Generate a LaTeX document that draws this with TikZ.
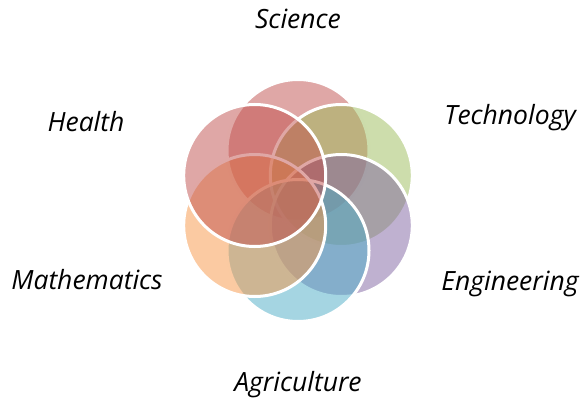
\documentclass[tikz,border=0pt]{standalone}
\usepackage{fontspec}
\setmainfont{Open Sans}
\usetikzlibrary{calc}
\definecolor{cRed}{HTML}{C0504D}
\definecolor{cGreen}{HTML}{9BBB59}
\definecolor{cPurple}{HTML}{8064A2}
\definecolor{cAqua}{HTML}{4BACC6}
\definecolor{cOrange}{HTML}{F79646}
\begin{document}
\begin{tikzpicture}[x=1pt,y=-1pt,
  venn/.style={circle, minimum size=142pt, inner sep=0pt, fill opacity=0.5, draw=white, draw opacity=1, line width=3pt},
  lbl/.style={anchor=base, font=\fontsize{26.5}{30}\selectfont\itshape, text=black}]
\useasboundingbox (0,0) rectangle (583,398);
\coordinate (c) at (298,200.5);
\node[venn, fill=cRed]    (sci) at ($(c)+(0,-50)$) {};
\node[venn, fill=cGreen]  (tec) at ($(c)+(43.3,-25)$) {};
\node[venn, fill=cPurple] (eng) at ($(c)+(43.3,25)$) {};
\node[venn, fill=cAqua]   (agr) at ($(c)+(0,50)$) {};
\node[venn, fill=cOrange] (mat) at ($(c)+(-43.3,25)$) {};
\node[venn, fill=cRed]    (hea) at ($(c)+(-43.3,-25)$) {};
\node[lbl] (tsci) at (298,29) {Science};
\node[lbl] (ttec) at (510,125) {Technology};
\node[lbl] (teng) at (510,290) {Engineering};
\node[lbl] (tagr) at (298,391) {Agriculture};
\node[lbl] (tmat) at (87,289) {Mathematics};
\node[lbl] (thea) at (86,132) {Health};
\end{tikzpicture}
\end{document}
